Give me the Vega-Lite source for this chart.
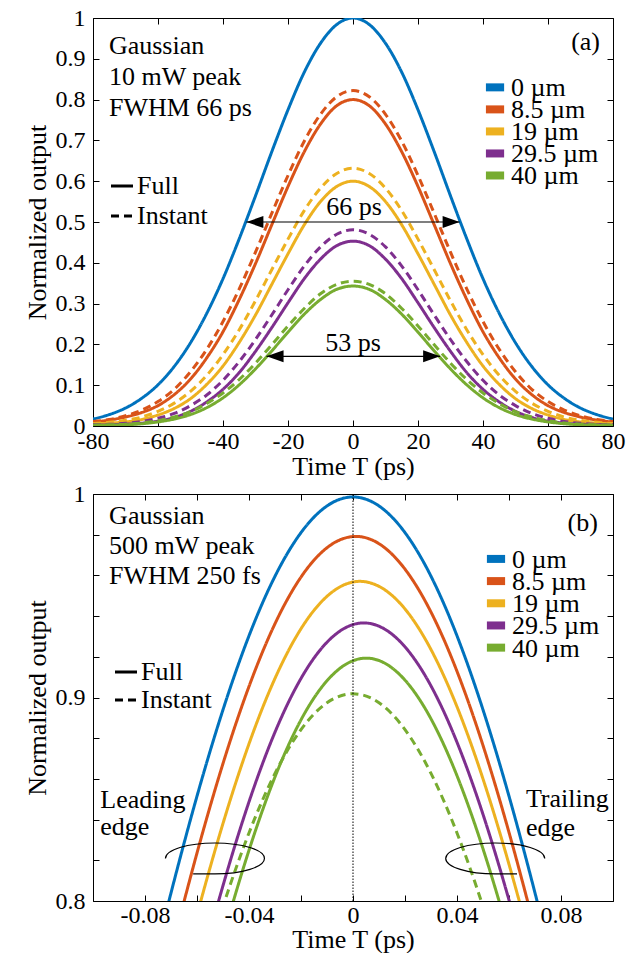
{
"$schema": "https://vega.github.io/schema/vega-lite/v6.json",
"autosize": {"type": "pad"},
"padding": {"left": 23, "top": 5, "right": 0, "bottom": 0},
"background": "white",
"bounds": "flush",
"spacing": 68,
"config": {
  "font": "Liberation Serif",
  "view": {"stroke": "black", "strokeWidth": 1},
  "axis": {"domain": false, "grid": false, "ticks": true, "tickColor": "black", "tickSize": -6, "tickWidth": 1, "labelFontSize": 24, "labelColor": "black", "labelFont": "Liberation Serif", "titleFont": "Liberation Serif", "titleFontSize": 26, "titleFontWeight": "normal", "titleColor": "black", "labelFlush": false, "labelOverlap": false, "labelBound": false},
  "axisX": {"labelPadding": 9, "titlePadding": 0},
  "axisY": {"labelPadding": 14, "titlePadding": 5},
  "legend": {"labelFont": "Liberation Serif", "labelColor": "black", "padding": 0},
  "text": {"font": "Liberation Serif", "fontSize": 26, "color": "black"}
},
"resolve": {"scale": {"color": "independent", "strokeDash": "independent"}, "legend": {"color": "independent", "strokeDash": "independent"}},
"datasets": {
"a": [
{"t":-80,"v":0.017,"d":"0 µm","m":"Full"},{"t":-75,"v":0.028,"d":"0 µm","m":"Full"},{"t":-70,"v":0.044,"d":"0 µm","m":"Full"},{"t":-65,"v":0.068,"d":"0 µm","m":"Full"},{"t":-60,"v":0.101,"d":"0 µm","m":"Full"},{"t":-55,"v":0.146,"d":"0 µm","m":"Full"},{"t":-50,"v":0.204,"d":"0 µm","m":"Full"},{"t":-45,"v":0.276,"d":"0 µm","m":"Full"},{"t":-40,"v":0.361,"d":"0 µm","m":"Full"},{"t":-35,"v":0.459,"d":"0 µm","m":"Full"},{"t":-30,"v":0.564,"d":"0 µm","m":"Full"},{"t":-25,"v":0.672,"d":"0 µm","m":"Full"},{"t":-20,"v":0.775,"d":"0 µm","m":"Full"},{"t":-15,"v":0.867,"d":"0 µm","m":"Full"},{"t":-10,"v":0.938,"d":"0 µm","m":"Full"},{"t":-5,"v":0.984,"d":"0 µm","m":"Full"},{"t":0,"v":1,"d":"0 µm","m":"Full"},{"t":5,"v":0.984,"d":"0 µm","m":"Full"},{"t":10,"v":0.938,"d":"0 µm","m":"Full"},{"t":15,"v":0.867,"d":"0 µm","m":"Full"},{"t":20,"v":0.775,"d":"0 µm","m":"Full"},{"t":25,"v":0.672,"d":"0 µm","m":"Full"},{"t":30,"v":0.564,"d":"0 µm","m":"Full"},{"t":35,"v":0.459,"d":"0 µm","m":"Full"},{"t":40,"v":0.361,"d":"0 µm","m":"Full"},{"t":45,"v":0.276,"d":"0 µm","m":"Full"},{"t":50,"v":0.204,"d":"0 µm","m":"Full"},{"t":55,"v":0.146,"d":"0 µm","m":"Full"},{"t":60,"v":0.101,"d":"0 µm","m":"Full"},{"t":65,"v":0.068,"d":"0 µm","m":"Full"},{"t":70,"v":0.044,"d":"0 µm","m":"Full"},{"t":75,"v":0.028,"d":"0 µm","m":"Full"},{"t":80,"v":0.017,"d":"0 µm","m":"Full"},
{"t":-80,"v":0.011,"d":"8.5 µm","m":"Instant"},{"t":-75,"v":0.016,"d":"8.5 µm","m":"Instant"},{"t":-70,"v":0.025,"d":"8.5 µm","m":"Instant"},{"t":-65,"v":0.039,"d":"8.5 µm","m":"Instant"},{"t":-60,"v":0.060,"d":"8.5 µm","m":"Instant"},{"t":-55,"v":0.090,"d":"8.5 µm","m":"Instant"},{"t":-50,"v":0.133,"d":"8.5 µm","m":"Instant"},{"t":-45,"v":0.188,"d":"8.5 µm","m":"Instant"},{"t":-40,"v":0.256,"d":"8.5 µm","m":"Instant"},{"t":-35,"v":0.336,"d":"8.5 µm","m":"Instant"},{"t":-30,"v":0.426,"d":"8.5 µm","m":"Instant"},{"t":-25,"v":0.521,"d":"8.5 µm","m":"Instant"},{"t":-20,"v":0.614,"d":"8.5 µm","m":"Instant"},{"t":-15,"v":0.698,"d":"8.5 µm","m":"Instant"},{"t":-10,"v":0.764,"d":"8.5 µm","m":"Instant"},{"t":-5,"v":0.807,"d":"8.5 µm","m":"Instant"},{"t":0,"v":0.822,"d":"8.5 µm","m":"Instant"},{"t":5,"v":0.807,"d":"8.5 µm","m":"Instant"},{"t":10,"v":0.764,"d":"8.5 µm","m":"Instant"},{"t":15,"v":0.698,"d":"8.5 µm","m":"Instant"},{"t":20,"v":0.614,"d":"8.5 µm","m":"Instant"},{"t":25,"v":0.521,"d":"8.5 µm","m":"Instant"},{"t":30,"v":0.426,"d":"8.5 µm","m":"Instant"},{"t":35,"v":0.336,"d":"8.5 µm","m":"Instant"},{"t":40,"v":0.256,"d":"8.5 µm","m":"Instant"},{"t":45,"v":0.188,"d":"8.5 µm","m":"Instant"},{"t":50,"v":0.133,"d":"8.5 µm","m":"Instant"},{"t":55,"v":0.090,"d":"8.5 µm","m":"Instant"},{"t":60,"v":0.060,"d":"8.5 µm","m":"Instant"},{"t":65,"v":0.039,"d":"8.5 µm","m":"Instant"},{"t":70,"v":0.025,"d":"8.5 µm","m":"Instant"},{"t":75,"v":0.016,"d":"8.5 µm","m":"Instant"},{"t":80,"v":0.011,"d":"8.5 µm","m":"Instant"},
{"t":-80,"v":0.0095,"d":"8.5 µm","m":"Full"},{"t":-75,"v":0.0145,"d":"8.5 µm","m":"Full"},{"t":-70,"v":0.022,"d":"8.5 µm","m":"Full"},{"t":-65,"v":0.033,"d":"8.5 µm","m":"Full"},{"t":-60,"v":0.050,"d":"8.5 µm","m":"Full"},{"t":-55,"v":0.077,"d":"8.5 µm","m":"Full"},{"t":-50,"v":0.115,"d":"8.5 µm","m":"Full"},{"t":-45,"v":0.167,"d":"8.5 µm","m":"Full"},{"t":-40,"v":0.231,"d":"8.5 µm","m":"Full"},{"t":-35,"v":0.310,"d":"8.5 µm","m":"Full"},{"t":-30,"v":0.398,"d":"8.5 µm","m":"Full"},{"t":-25,"v":0.493,"d":"8.5 µm","m":"Full"},{"t":-20,"v":0.587,"d":"8.5 µm","m":"Full"},{"t":-15,"v":0.672,"d":"8.5 µm","m":"Full"},{"t":-10,"v":0.740,"d":"8.5 µm","m":"Full"},{"t":-5,"v":0.785,"d":"8.5 µm","m":"Full"},{"t":0,"v":0.800,"d":"8.5 µm","m":"Full"},{"t":5,"v":0.785,"d":"8.5 µm","m":"Full"},{"t":10,"v":0.740,"d":"8.5 µm","m":"Full"},{"t":15,"v":0.672,"d":"8.5 µm","m":"Full"},{"t":20,"v":0.587,"d":"8.5 µm","m":"Full"},{"t":25,"v":0.493,"d":"8.5 µm","m":"Full"},{"t":30,"v":0.398,"d":"8.5 µm","m":"Full"},{"t":35,"v":0.310,"d":"8.5 µm","m":"Full"},{"t":40,"v":0.231,"d":"8.5 µm","m":"Full"},{"t":45,"v":0.167,"d":"8.5 µm","m":"Full"},{"t":50,"v":0.115,"d":"8.5 µm","m":"Full"},{"t":55,"v":0.077,"d":"8.5 µm","m":"Full"},{"t":60,"v":0.050,"d":"8.5 µm","m":"Full"},{"t":65,"v":0.033,"d":"8.5 µm","m":"Full"},{"t":70,"v":0.022,"d":"8.5 µm","m":"Full"},{"t":75,"v":0.0145,"d":"8.5 µm","m":"Full"},{"t":80,"v":0.0095,"d":"8.5 µm","m":"Full"},
{"t":-80,"v":0.006,"d":"19 µm","m":"Instant"},{"t":-75,"v":0.009,"d":"19 µm","m":"Instant"},{"t":-70,"v":0.014,"d":"19 µm","m":"Instant"},{"t":-65,"v":0.022,"d":"19 µm","m":"Instant"},{"t":-60,"v":0.036,"d":"19 µm","m":"Instant"},{"t":-55,"v":0.056,"d":"19 µm","m":"Instant"},{"t":-50,"v":0.085,"d":"19 µm","m":"Instant"},{"t":-45,"v":0.124,"d":"19 µm","m":"Instant"},{"t":-40,"v":0.175,"d":"19 µm","m":"Instant"},{"t":-35,"v":0.236,"d":"19 µm","m":"Instant"},{"t":-30,"v":0.307,"d":"19 µm","m":"Instant"},{"t":-25,"v":0.383,"d":"19 µm","m":"Instant"},{"t":-20,"v":0.458,"d":"19 µm","m":"Instant"},{"t":-15,"v":0.528,"d":"19 µm","m":"Instant"},{"t":-10,"v":0.583,"d":"19 µm","m":"Instant"},{"t":-5,"v":0.619,"d":"19 µm","m":"Instant"},{"t":0,"v":0.632,"d":"19 µm","m":"Instant"},{"t":5,"v":0.619,"d":"19 µm","m":"Instant"},{"t":10,"v":0.583,"d":"19 µm","m":"Instant"},{"t":15,"v":0.528,"d":"19 µm","m":"Instant"},{"t":20,"v":0.458,"d":"19 µm","m":"Instant"},{"t":25,"v":0.383,"d":"19 µm","m":"Instant"},{"t":30,"v":0.307,"d":"19 µm","m":"Instant"},{"t":35,"v":0.236,"d":"19 µm","m":"Instant"},{"t":40,"v":0.175,"d":"19 µm","m":"Instant"},{"t":45,"v":0.124,"d":"19 µm","m":"Instant"},{"t":50,"v":0.085,"d":"19 µm","m":"Instant"},{"t":55,"v":0.056,"d":"19 µm","m":"Instant"},{"t":60,"v":0.036,"d":"19 µm","m":"Instant"},{"t":65,"v":0.022,"d":"19 µm","m":"Instant"},{"t":70,"v":0.014,"d":"19 µm","m":"Instant"},{"t":75,"v":0.009,"d":"19 µm","m":"Instant"},{"t":80,"v":0.006,"d":"19 µm","m":"Instant"},
{"t":-80,"v":0.005,"d":"19 µm","m":"Full"},{"t":-75,"v":0.007,"d":"19 µm","m":"Full"},{"t":-70,"v":0.010,"d":"19 µm","m":"Full"},{"t":-65,"v":0.016,"d":"19 µm","m":"Full"},{"t":-60,"v":0.027,"d":"19 µm","m":"Full"},{"t":-55,"v":0.043,"d":"19 µm","m":"Full"},{"t":-50,"v":0.067,"d":"19 µm","m":"Full"},{"t":-45,"v":0.102,"d":"19 µm","m":"Full"},{"t":-40,"v":0.147,"d":"19 µm","m":"Full"},{"t":-35,"v":0.205,"d":"19 µm","m":"Full"},{"t":-30,"v":0.272,"d":"19 µm","m":"Full"},{"t":-25,"v":0.347,"d":"19 µm","m":"Full"},{"t":-20,"v":0.422,"d":"19 µm","m":"Full"},{"t":-15,"v":0.493,"d":"19 µm","m":"Full"},{"t":-10,"v":0.550,"d":"19 µm","m":"Full"},{"t":-5,"v":0.587,"d":"19 µm","m":"Full"},{"t":0,"v":0.600,"d":"19 µm","m":"Full"},{"t":5,"v":0.587,"d":"19 µm","m":"Full"},{"t":10,"v":0.550,"d":"19 µm","m":"Full"},{"t":15,"v":0.493,"d":"19 µm","m":"Full"},{"t":20,"v":0.422,"d":"19 µm","m":"Full"},{"t":25,"v":0.347,"d":"19 µm","m":"Full"},{"t":30,"v":0.272,"d":"19 µm","m":"Full"},{"t":35,"v":0.205,"d":"19 µm","m":"Full"},{"t":40,"v":0.147,"d":"19 µm","m":"Full"},{"t":45,"v":0.102,"d":"19 µm","m":"Full"},{"t":50,"v":0.067,"d":"19 µm","m":"Full"},{"t":55,"v":0.043,"d":"19 µm","m":"Full"},{"t":60,"v":0.027,"d":"19 µm","m":"Full"},{"t":65,"v":0.016,"d":"19 µm","m":"Full"},{"t":70,"v":0.010,"d":"19 µm","m":"Full"},{"t":75,"v":0.007,"d":"19 µm","m":"Full"},{"t":80,"v":0.005,"d":"19 µm","m":"Full"},
{"t":-80,"v":0.003,"d":"29.5 µm","m":"Instant"},{"t":-75,"v":0.004,"d":"29.5 µm","m":"Instant"},{"t":-70,"v":0.0065,"d":"29.5 µm","m":"Instant"},{"t":-65,"v":0.011,"d":"29.5 µm","m":"Instant"},{"t":-60,"v":0.019,"d":"29.5 µm","m":"Instant"},{"t":-55,"v":0.031,"d":"29.5 µm","m":"Instant"},{"t":-50,"v":0.050,"d":"29.5 µm","m":"Instant"},{"t":-45,"v":0.076,"d":"29.5 µm","m":"Instant"},{"t":-40,"v":0.112,"d":"29.5 µm","m":"Instant"},{"t":-35,"v":0.158,"d":"29.5 µm","m":"Instant"},{"t":-30,"v":0.212,"d":"29.5 µm","m":"Instant"},{"t":-25,"v":0.272,"d":"29.5 µm","m":"Instant"},{"t":-20,"v":0.334,"d":"29.5 µm","m":"Instant"},{"t":-15,"v":0.392,"d":"29.5 µm","m":"Instant"},{"t":-10,"v":0.439,"d":"29.5 µm","m":"Instant"},{"t":-5,"v":0.470,"d":"29.5 µm","m":"Instant"},{"t":0,"v":0.481,"d":"29.5 µm","m":"Instant"},{"t":5,"v":0.470,"d":"29.5 µm","m":"Instant"},{"t":10,"v":0.439,"d":"29.5 µm","m":"Instant"},{"t":15,"v":0.392,"d":"29.5 µm","m":"Instant"},{"t":20,"v":0.334,"d":"29.5 µm","m":"Instant"},{"t":25,"v":0.272,"d":"29.5 µm","m":"Instant"},{"t":30,"v":0.212,"d":"29.5 µm","m":"Instant"},{"t":35,"v":0.158,"d":"29.5 µm","m":"Instant"},{"t":40,"v":0.112,"d":"29.5 µm","m":"Instant"},{"t":45,"v":0.076,"d":"29.5 µm","m":"Instant"},{"t":50,"v":0.050,"d":"29.5 µm","m":"Instant"},{"t":55,"v":0.031,"d":"29.5 µm","m":"Instant"},{"t":60,"v":0.019,"d":"29.5 µm","m":"Instant"},{"t":65,"v":0.011,"d":"29.5 µm","m":"Instant"},{"t":70,"v":0.0065,"d":"29.5 µm","m":"Instant"},{"t":75,"v":0.004,"d":"29.5 µm","m":"Instant"},{"t":80,"v":0.003,"d":"29.5 µm","m":"Instant"},
{"t":-80,"v":0.002,"d":"29.5 µm","m":"Full"},{"t":-75,"v":0.003,"d":"29.5 µm","m":"Full"},{"t":-70,"v":0.0045,"d":"29.5 µm","m":"Full"},{"t":-65,"v":0.007,"d":"29.5 µm","m":"Full"},{"t":-60,"v":0.012,"d":"29.5 µm","m":"Full"},{"t":-55,"v":0.021,"d":"29.5 µm","m":"Full"},{"t":-50,"v":0.036,"d":"29.5 µm","m":"Full"},{"t":-45,"v":0.059,"d":"29.5 µm","m":"Full"},{"t":-40,"v":0.090,"d":"29.5 µm","m":"Full"},{"t":-35,"v":0.131,"d":"29.5 µm","m":"Full"},{"t":-30,"v":0.183,"d":"29.5 µm","m":"Full"},{"t":-25,"v":0.241,"d":"29.5 µm","m":"Full"},{"t":-20,"v":0.302,"d":"29.5 µm","m":"Full"},{"t":-15,"v":0.361,"d":"29.5 µm","m":"Full"},{"t":-10,"v":0.409,"d":"29.5 µm","m":"Full"},{"t":-5,"v":0.442,"d":"29.5 µm","m":"Full"},{"t":0,"v":0.453,"d":"29.5 µm","m":"Full"},{"t":5,"v":0.442,"d":"29.5 µm","m":"Full"},{"t":10,"v":0.409,"d":"29.5 µm","m":"Full"},{"t":15,"v":0.361,"d":"29.5 µm","m":"Full"},{"t":20,"v":0.302,"d":"29.5 µm","m":"Full"},{"t":25,"v":0.241,"d":"29.5 µm","m":"Full"},{"t":30,"v":0.183,"d":"29.5 µm","m":"Full"},{"t":35,"v":0.131,"d":"29.5 µm","m":"Full"},{"t":40,"v":0.090,"d":"29.5 µm","m":"Full"},{"t":45,"v":0.059,"d":"29.5 µm","m":"Full"},{"t":50,"v":0.036,"d":"29.5 µm","m":"Full"},{"t":55,"v":0.021,"d":"29.5 µm","m":"Full"},{"t":60,"v":0.012,"d":"29.5 µm","m":"Full"},{"t":65,"v":0.007,"d":"29.5 µm","m":"Full"},{"t":70,"v":0.0045,"d":"29.5 µm","m":"Full"},{"t":75,"v":0.003,"d":"29.5 µm","m":"Full"},{"t":80,"v":0.002,"d":"29.5 µm","m":"Full"},
{"t":-80,"v":0.002,"d":"40 µm","m":"Instant"},{"t":-75,"v":0.003,"d":"40 µm","m":"Instant"},{"t":-70,"v":0.0045,"d":"40 µm","m":"Instant"},{"t":-65,"v":0.0075,"d":"40 µm","m":"Instant"},{"t":-60,"v":0.013,"d":"40 µm","m":"Instant"},{"t":-55,"v":0.022,"d":"40 µm","m":"Instant"},{"t":-50,"v":0.035,"d":"40 µm","m":"Instant"},{"t":-45,"v":0.055,"d":"40 µm","m":"Instant"},{"t":-40,"v":0.081,"d":"40 µm","m":"Instant"},{"t":-35,"v":0.114,"d":"40 µm","m":"Instant"},{"t":-30,"v":0.154,"d":"40 µm","m":"Instant"},{"t":-25,"v":0.199,"d":"40 µm","m":"Instant"},{"t":-20,"v":0.245,"d":"40 µm","m":"Instant"},{"t":-15,"v":0.288,"d":"40 µm","m":"Instant"},{"t":-10,"v":0.324,"d":"40 µm","m":"Instant"},{"t":-5,"v":0.347,"d":"40 µm","m":"Instant"},{"t":0,"v":0.355,"d":"40 µm","m":"Instant"},{"t":5,"v":0.347,"d":"40 µm","m":"Instant"},{"t":10,"v":0.324,"d":"40 µm","m":"Instant"},{"t":15,"v":0.288,"d":"40 µm","m":"Instant"},{"t":20,"v":0.245,"d":"40 µm","m":"Instant"},{"t":25,"v":0.199,"d":"40 µm","m":"Instant"},{"t":30,"v":0.154,"d":"40 µm","m":"Instant"},{"t":35,"v":0.114,"d":"40 µm","m":"Instant"},{"t":40,"v":0.081,"d":"40 µm","m":"Instant"},{"t":45,"v":0.055,"d":"40 µm","m":"Instant"},{"t":50,"v":0.035,"d":"40 µm","m":"Instant"},{"t":55,"v":0.022,"d":"40 µm","m":"Instant"},{"t":60,"v":0.013,"d":"40 µm","m":"Instant"},{"t":65,"v":0.0075,"d":"40 µm","m":"Instant"},{"t":70,"v":0.0045,"d":"40 µm","m":"Instant"},{"t":75,"v":0.003,"d":"40 µm","m":"Instant"},{"t":80,"v":0.002,"d":"40 µm","m":"Instant"},
{"t":-80,"v":0.0015,"d":"40 µm","m":"Full"},{"t":-75,"v":0.002,"d":"40 µm","m":"Full"},{"t":-70,"v":0.003,"d":"40 µm","m":"Full"},{"t":-65,"v":0.0055,"d":"40 µm","m":"Full"},{"t":-60,"v":0.010,"d":"40 µm","m":"Full"},{"t":-55,"v":0.017,"d":"40 µm","m":"Full"},{"t":-50,"v":0.028,"d":"40 µm","m":"Full"},{"t":-45,"v":0.045,"d":"40 µm","m":"Full"},{"t":-40,"v":0.069,"d":"40 µm","m":"Full"},{"t":-35,"v":0.101,"d":"40 µm","m":"Full"},{"t":-30,"v":0.140,"d":"40 µm","m":"Full"},{"t":-25,"v":0.184,"d":"40 µm","m":"Full"},{"t":-20,"v":0.230,"d":"40 µm","m":"Full"},{"t":-15,"v":0.274,"d":"40 µm","m":"Full"},{"t":-10,"v":0.310,"d":"40 µm","m":"Full"},{"t":-5,"v":0.335,"d":"40 µm","m":"Full"},{"t":0,"v":0.343,"d":"40 µm","m":"Full"},{"t":5,"v":0.335,"d":"40 µm","m":"Full"},{"t":10,"v":0.310,"d":"40 µm","m":"Full"},{"t":15,"v":0.274,"d":"40 µm","m":"Full"},{"t":20,"v":0.230,"d":"40 µm","m":"Full"},{"t":25,"v":0.184,"d":"40 µm","m":"Full"},{"t":30,"v":0.140,"d":"40 µm","m":"Full"},{"t":35,"v":0.101,"d":"40 µm","m":"Full"},{"t":40,"v":0.069,"d":"40 µm","m":"Full"},{"t":45,"v":0.045,"d":"40 µm","m":"Full"},{"t":50,"v":0.028,"d":"40 µm","m":"Full"},{"t":55,"v":0.017,"d":"40 µm","m":"Full"},{"t":60,"v":0.010,"d":"40 µm","m":"Full"},{"t":65,"v":0.0055,"d":"40 µm","m":"Full"},{"t":70,"v":0.003,"d":"40 µm","m":"Full"},{"t":75,"v":0.002,"d":"40 µm","m":"Full"},{"t":80,"v":0.0015,"d":"40 µm","m":"Full"}
],
"b": [
{"t":-0.08,"v":0.7529,"d":"0 µm","m":"Full"},{"t":-0.07,"v":0.8046,"d":"0 µm","m":"Full"},{"t":-0.06,"v":0.8524,"d":"0 µm","m":"Full"},{"t":-0.05,"v":0.8950,"d":"0 µm","m":"Full"},{"t":-0.04,"v":0.9315,"d":"0 µm","m":"Full"},{"t":-0.03,"v":0.9609,"d":"0 µm","m":"Full"},{"t":-0.02,"v":0.9824,"d":"0 µm","m":"Full"},{"t":-0.01,"v":0.9956,"d":"0 µm","m":"Full"},{"t":0,"v":1,"d":"0 µm","m":"Full"},{"t":0.01,"v":0.9956,"d":"0 µm","m":"Full"},{"t":0.02,"v":0.9824,"d":"0 µm","m":"Full"},{"t":0.03,"v":0.9609,"d":"0 µm","m":"Full"},{"t":0.04,"v":0.9315,"d":"0 µm","m":"Full"},{"t":0.05,"v":0.8950,"d":"0 µm","m":"Full"},{"t":0.06,"v":0.8524,"d":"0 µm","m":"Full"},{"t":0.07,"v":0.8046,"d":"0 µm","m":"Full"},{"t":0.08,"v":0.7529,"d":"0 µm","m":"Full"},
{"t":-0.08,"v":0.7223,"d":"8.5 µm","m":"Full"},{"t":-0.07,"v":0.7753,"d":"8.5 µm","m":"Full"},{"t":-0.06,"v":0.8244,"d":"8.5 µm","m":"Full"},{"t":-0.05,"v":0.8686,"d":"8.5 µm","m":"Full"},{"t":-0.04,"v":0.9066,"d":"8.5 µm","m":"Full"},{"t":-0.03,"v":0.9376,"d":"8.5 µm","m":"Full"},{"t":-0.02,"v":0.9606,"d":"8.5 µm","m":"Full"},{"t":-0.01,"v":0.9751,"d":"8.5 µm","m":"Full"},{"t":0,"v":0.9806,"d":"8.5 µm","m":"Full"},{"t":0.01,"v":0.9771,"d":"8.5 µm","m":"Full"},{"t":0.02,"v":0.9645,"d":"8.5 µm","m":"Full"},{"t":0.03,"v":0.9433,"d":"8.5 µm","m":"Full"},{"t":0.04,"v":0.9141,"d":"8.5 µm","m":"Full"},{"t":0.05,"v":0.8775,"d":"8.5 µm","m":"Full"},{"t":0.06,"v":0.8346,"d":"8.5 µm","m":"Full"},{"t":0.07,"v":0.7864,"d":"8.5 µm","m":"Full"},{"t":0.08,"v":0.7343,"d":"8.5 µm","m":"Full"},
{"t":-0.08,"v":0.6906,"d":"19 µm","m":"Full"},{"t":-0.07,"v":0.7440,"d":"19 µm","m":"Full"},{"t":-0.06,"v":0.7939,"d":"19 µm","m":"Full"},{"t":-0.05,"v":0.8391,"d":"19 µm","m":"Full"},{"t":-0.04,"v":0.8784,"d":"19 µm","m":"Full"},{"t":-0.03,"v":0.9107,"d":"19 µm","m":"Full"},{"t":-0.02,"v":0.9352,"d":"19 µm","m":"Full"},{"t":-0.01,"v":0.9512,"d":"19 µm","m":"Full"},{"t":0,"v":0.9583,"d":"19 µm","m":"Full"},{"t":0.01,"v":0.9561,"d":"19 µm","m":"Full"},{"t":0.02,"v":0.9450,"d":"19 µm","m":"Full"},{"t":0.03,"v":0.9249,"d":"19 µm","m":"Full"},{"t":0.04,"v":0.8967,"d":"19 µm","m":"Full"},{"t":0.05,"v":0.8611,"d":"19 µm","m":"Full"},{"t":0.06,"v":0.8189,"d":"19 µm","m":"Full"},{"t":0.07,"v":0.7715,"d":"19 µm","m":"Full"},{"t":0.08,"v":0.7197,"d":"19 µm","m":"Full"},
{"t":-0.08,"v":0.6540,"d":"29.5 µm","m":"Full"},{"t":-0.07,"v":0.7100,"d":"29.5 µm","m":"Full"},{"t":-0.06,"v":0.7615,"d":"29.5 µm","m":"Full"},{"t":-0.05,"v":0.8085,"d":"29.5 µm","m":"Full"},{"t":-0.04,"v":0.8499,"d":"29.5 µm","m":"Full"},{"t":-0.03,"v":0.8843,"d":"29.5 µm","m":"Full"},{"t":-0.02,"v":0.9108,"d":"29.5 µm","m":"Full"},{"t":-0.01,"v":0.9287,"d":"29.5 µm","m":"Full"},{"t":0,"v":0.9374,"d":"29.5 µm","m":"Full"},{"t":0.01,"v":0.9366,"d":"29.5 µm","m":"Full"},{"t":0.02,"v":0.9264,"d":"29.5 µm","m":"Full"},{"t":0.03,"v":0.9071,"d":"29.5 µm","m":"Full"},{"t":0.04,"v":0.8793,"d":"29.5 µm","m":"Full"},{"t":0.05,"v":0.8437,"d":"29.5 µm","m":"Full"},{"t":0.06,"v":0.8014,"d":"29.5 µm","m":"Full"},{"t":0.07,"v":0.7536,"d":"29.5 µm","m":"Full"},{"t":0.08,"v":0.7015,"d":"29.5 µm","m":"Full"},
{"t":-0.07,"v":0.7100,"d":"40 µm","m":"Instant"},{"t":-0.06,"v":0.7561,"d":"40 µm","m":"Instant"},{"t":-0.05,"v":0.7983,"d":"40 µm","m":"Instant"},{"t":-0.04,"v":0.8346,"d":"40 µm","m":"Instant"},{"t":-0.03,"v":0.8640,"d":"40 µm","m":"Instant"},{"t":-0.02,"v":0.8856,"d":"40 µm","m":"Instant"},{"t":-0.01,"v":0.8989,"d":"40 µm","m":"Instant"},{"t":0,"v":0.9033,"d":"40 µm","m":"Instant"},{"t":0.01,"v":0.8989,"d":"40 µm","m":"Instant"},{"t":0.02,"v":0.8856,"d":"40 µm","m":"Instant"},{"t":0.03,"v":0.8640,"d":"40 µm","m":"Instant"},{"t":0.04,"v":0.8346,"d":"40 µm","m":"Instant"},{"t":0.05,"v":0.7983,"d":"40 µm","m":"Instant"},{"t":0.06,"v":0.7561,"d":"40 µm","m":"Instant"},{"t":0.07,"v":0.7100,"d":"40 µm","m":"Instant"},
{"t":-0.07,"v":0.6800,"d":"40 µm","m":"Full"},{"t":-0.06,"v":0.7341,"d":"40 µm","m":"Full"},{"t":-0.05,"v":0.7830,"d":"40 µm","m":"Full"},{"t":-0.04,"v":0.8261,"d":"40 µm","m":"Full"},{"t":-0.03,"v":0.8623,"d":"40 µm","m":"Full"},{"t":-0.02,"v":0.8905,"d":"40 µm","m":"Full"},{"t":-0.01,"v":0.9098,"d":"40 µm","m":"Full"},{"t":0,"v":0.9197,"d":"40 µm","m":"Full"},{"t":0.01,"v":0.9198,"d":"40 µm","m":"Full"},{"t":0.02,"v":0.9101,"d":"40 µm","m":"Full"},{"t":0.03,"v":0.8910,"d":"40 µm","m":"Full"},{"t":0.04,"v":0.8629,"d":"40 µm","m":"Full"},{"t":0.05,"v":0.8268,"d":"40 µm","m":"Full"},{"t":0.06,"v":0.7839,"d":"40 µm","m":"Full"},{"t":0.07,"v":0.7352,"d":"40 µm","m":"Full"},{"t":0.08,"v":0.6830,"d":"40 µm","m":"Full"}
],
"la": [
{"d":"0 µm","t":40.9,"t2":46.5,"tl":48.6,"v":0.830},
{"d":"8.5 µm","t":40.9,"t2":46.5,"tl":48.6,"v":0.776},
{"d":"19 µm","t":40.9,"t2":46.5,"tl":48.6,"v":0.722},
{"d":"29.5 µm","t":40.9,"t2":46.5,"tl":48.6,"v":0.668},
{"d":"40 µm","t":40.9,"t2":46.5,"tl":48.6,"v":0.614}
],
"lb": [
{"d":"0 µm","t":0.0515,"t2":0.0585,"tl":0.0612,"v":0.9681},
{"d":"8.5 µm","t":0.0515,"t2":0.0585,"tl":0.0612,"v":0.9572},
{"d":"19 µm","t":0.0515,"t2":0.0585,"tl":0.0612,"v":0.9463},
{"d":"29.5 µm","t":0.0515,"t2":0.0585,"tl":0.0612,"v":0.9354},
{"d":"40 µm","t":0.0515,"t2":0.0585,"tl":0.0612,"v":0.9245}
]
},
"vconcat": [
{
  "width": 520, "height": 408,
  "encoding": {
    "x": {"field": "t", "type": "quantitative", "scale": {"domain": [-80, 80], "nice": false, "zero": false}, "axis": null},
    "y": {"field": "v", "type": "quantitative", "scale": {"domain": [0, 1], "nice": false, "zero": false}, "axis": null}
  },
  "layer": [
    {"data": {"name": "a"},
     "mark": {"type": "line", "strokeWidth": 3, "interpolate": "monotone", "clip": true},
     "encoding": {
       "x": {"field": "t", "type": "quantitative", "scale": {"domain": [-80, 80], "nice": false, "zero": false},
             "axis": {"orient": "bottom", "values": [-80,-60,-40,-20,0,20,40,60,80], "title": "Time T (ps)", "labelExpr": "datum.value < 0 ? '-' + format(-datum.value, 'd') : format(datum.value, 'd')"}},
       "y": {"field": "v", "type": "quantitative", "scale": {"domain": [0, 1], "nice": false, "zero": false},
             "axis": {"orient": "left", "values": [0,0.1,0.2,0.3,0.4,0.5,0.6,0.7,0.8,0.9,1], "format": "~g", "title": "Normalized output"}},
       "color": {"field": "d", "type": "nominal",
                 "scale": {"domain": ["0 µm","8.5 µm","19 µm","29.5 µm","40 µm"], "range": ["#0072BD","#D95319","#EDB120","#7E2F8E","#77AC30"]},
                 "legend": null},
       "strokeDash": {"field": "m", "type": "nominal",
                 "scale": {"domain": ["Full","Instant"], "range": [[1,0],[8,5]]},
                 "legend": {"orient": "none", "legendX": 16, "legendY": 155, "title": null, "symbolType": "stroke", "symbolSize": 484, "symbolStrokeWidth": 3, "symbolStrokeColor": "black", "labelFontSize": 26, "rowPadding": 4, "labelOffset": 2}}
     }},
    {"data": {"values": [{"t": -32.8, "t2": 32.8, "v": 0.5}, {"t": -26.6, "t2": 26.8, "v": 0.1708}]},
     "mark": {"type": "rule", "color": "black", "strokeWidth": 1.2},
     "encoding": {
       "x": {"field": "t", "type": "quantitative", "scale": {"domain": [-80, 80], "nice": false, "zero": false},
             "axis": {"orient": "top", "values": [-80,-60,-40,-20,0,20,40,60,80], "labels": false, "title": null}},
       "x2": {"field": "t2"},
       "y": {"field": "v", "type": "quantitative", "scale": {"domain": [0, 1], "nice": false, "zero": false},
             "axis": {"orient": "right", "values": [0,0.1,0.2,0.3,0.4,0.5,0.6,0.7,0.8,0.9,1], "labels": false, "title": null}}
     }},
    {"data": {"name": "la"},
     "mark": {"type": "rule", "strokeWidth": 8, "strokeCap": "butt"},
     "encoding": {"x2": {"field": "t2"}, "color": {"field": "d", "type": "nominal", "legend": null}}},
    {"data": {"name": "la"},
     "mark": {"type": "text", "align": "left", "baseline": "middle", "fontSize": 26, "dy": 1},
     "encoding": {"x": {"field": "tl", "type": "quantitative", "scale": {"domain": [-80, 80], "nice": false, "zero": false}, "axis": null}, "text": {"field": "d"}}},
    {"data": {"values": [{"t": -32.8, "v": 0.5}, {"t": -26.6, "v": 0.1708}]},
     "mark": {"type": "point", "shape": "M0,0L2,-0.7L2,0.7Z", "size": 289, "filled": true, "color": "black", "opacity": 1, "strokeWidth": 0}},
    {"data": {"values": [{"t": 32.8, "v": 0.5}, {"t": 26.8, "v": 0.1708}]},
     "mark": {"type": "point", "shape": "M0,0L-2,-0.7L-2,0.7Z", "size": 289, "filled": true, "color": "black", "opacity": 1, "strokeWidth": 0}},
    {"data": {"values": [{"t": -75.1, "v": 0.912, "s": "Gaussian"}, {"t": -75.1, "v": 0.836, "s": "10 mW peak"}, {"t": -75.1, "v": 0.760, "s": "FWHM 66 ps"}]},
     "mark": {"type": "text", "align": "left", "baseline": "alphabetic", "fontSize": 26},
     "encoding": {"text": {"field": "s"}}},
    {"data": {"values": [{"t": 0.3, "v": 0.517, "s": "66 ps"}, {"t": 0, "v": 0.1846, "s": "53 ps"}]},
     "mark": {"type": "text", "align": "center", "baseline": "alphabetic", "fontSize": 26},
     "encoding": {"text": {"field": "s"}}},
    {"data": {"values": [{"t": 76, "v": 0.921, "s": "(a)"}]},
     "mark": {"type": "text", "align": "right", "baseline": "alphabetic", "fontSize": 26},
     "encoding": {"text": {"field": "s"}}}
  ]
},
{
  "width": 520, "height": 407,
  "encoding": {
    "x": {"field": "t", "type": "quantitative", "scale": {"domain": [-0.1, 0.1], "nice": false, "zero": false}, "axis": null},
    "y": {"field": "v", "type": "quantitative", "scale": {"domain": [0.8, 1], "nice": false, "zero": false}, "axis": null}
  },
  "layer": [
    {"data": {"name": "b"},
     "mark": {"type": "line", "strokeWidth": 3, "interpolate": "basis", "clip": true},
     "encoding": {
       "x": {"field": "t", "type": "quantitative", "scale": {"domain": [-0.1, 0.1], "nice": false, "zero": false},
             "axis": {"orient": "bottom", "values": [-0.1,-0.08,-0.06,-0.04,-0.02,0,0.02,0.04,0.06,0.08,0.1], "title": "Time T (ps)", "labelPadding": 8, "titlePadding": -1, "format": "~g", "labelExpr": "abs(round(datum.value*100)) % 4 == 0 ? replace(datum.label, '−', '-') : ''"}},
       "y": {"field": "v", "type": "quantitative", "scale": {"domain": [0.8, 1], "nice": false, "zero": false},
             "axis": {"orient": "left", "values": [0.8,0.82,0.84,0.86,0.88,0.9,0.92,0.94,0.96,0.98,1], "format": "~g", "title": "Normalized output", "labelExpr": "round(datum.value*100) % 10 == 0 ? datum.label : ''"}},
       "color": {"field": "d", "type": "nominal",
                 "scale": {"domain": ["0 µm","8.5 µm","19 µm","29.5 µm","40 µm"], "range": ["#0072BD","#D95319","#EDB120","#7E2F8E","#77AC30"]},
                 "legend": null},
       "strokeDash": {"field": "m", "type": "nominal",
                 "scale": {"domain": ["Full","Instant"], "range": [[1,0],[8,5]]},
                 "legend": {"orient": "none", "legendX": 20, "legendY": 165, "title": null, "symbolType": "stroke", "symbolSize": 484, "symbolStrokeWidth": 3, "symbolStrokeColor": "black", "labelFontSize": 26, "rowPadding": 2, "labelOffset": 2}}
     }},
    {"data": {"values": [{"t": 0, "v": 0.8, "v2": 1}]},
     "mark": {"type": "rule", "color": "black", "strokeWidth": 1, "strokeDash": [1.5, 1.5]},
     "encoding": {
       "x": {"field": "t", "type": "quantitative", "scale": {"domain": [-0.1, 0.1], "nice": false, "zero": false},
             "axis": {"orient": "top", "values": [-0.1,-0.08,-0.06,-0.04,-0.02,0,0.02,0.04,0.06,0.08,0.1], "labels": false, "title": null}},
       "y": {"field": "v", "type": "quantitative", "scale": {"domain": [0.8, 1], "nice": false, "zero": false},
             "axis": {"orient": "right", "values": [0.8,0.82,0.84,0.86,0.88,0.9,0.92,0.94,0.96,0.98,1], "labels": false, "title": null}},
       "y2": {"field": "v2"}
     }},
    {"data": {"name": "lb"},
     "mark": {"type": "rule", "strokeWidth": 8, "strokeCap": "butt"},
     "encoding": {"x2": {"field": "t2"}, "color": {"field": "d", "type": "nominal", "legend": null}}},
    {"data": {"name": "lb"},
     "mark": {"type": "text", "align": "left", "baseline": "middle", "fontSize": 26, "dy": 1},
     "encoding": {"x": {"field": "tl", "type": "quantitative", "scale": {"domain": [-0.1, 0.1], "nice": false, "zero": false}, "axis": null}, "text": {"field": "d"}}},
    {"data": {"values": [{"t": -0.0531, "v": 0.8209}]},
     "mark": {"type": "point", "shape": "M-1,0A1,0.313 0 0 1 1,0A1,0.313 0 0 1 0,0.313L-0.44,0.313", "size": 9801, "filled": false, "stroke": "black", "strokeWidth": 1.2, "opacity": 1}},
    {"data": {"values": [{"t": 0.0547, "v": 0.8209}]},
     "mark": {"type": "point", "shape": "M1,0A1,0.313 0 0 0 -1,0A1,0.313 0 0 0 0,0.313L0.44,0.313", "size": 9801, "filled": false, "stroke": "black", "strokeWidth": 1.2, "opacity": 1}},
    {"data": {"values": [{"t": -0.0938, "v": 0.9853, "s": "Gaussian"}, {"t": -0.0938, "v": 0.9705, "s": "500 mW peak"}, {"t": -0.0938, "v": 0.9558, "s": "FWHM 250 fs"}, {"t": -0.0972, "v": 0.8457, "s": "Leading"}, {"t": -0.0972, "v": 0.8324, "s": "edge"}, {"t": 0.0665, "v": 0.8462, "s": "Trailing"}, {"t": 0.0665, "v": 0.8321, "s": "edge"}]},
     "mark": {"type": "text", "align": "left", "baseline": "alphabetic", "fontSize": 26},
     "encoding": {"text": {"field": "s"}}},
    {"data": {"values": [{"t": 0.0942, "v": 0.982, "s": "(b)"}]},
     "mark": {"type": "text", "align": "right", "baseline": "alphabetic", "fontSize": 26},
     "encoding": {"text": {"field": "s"}}}
  ]
}
]
}
